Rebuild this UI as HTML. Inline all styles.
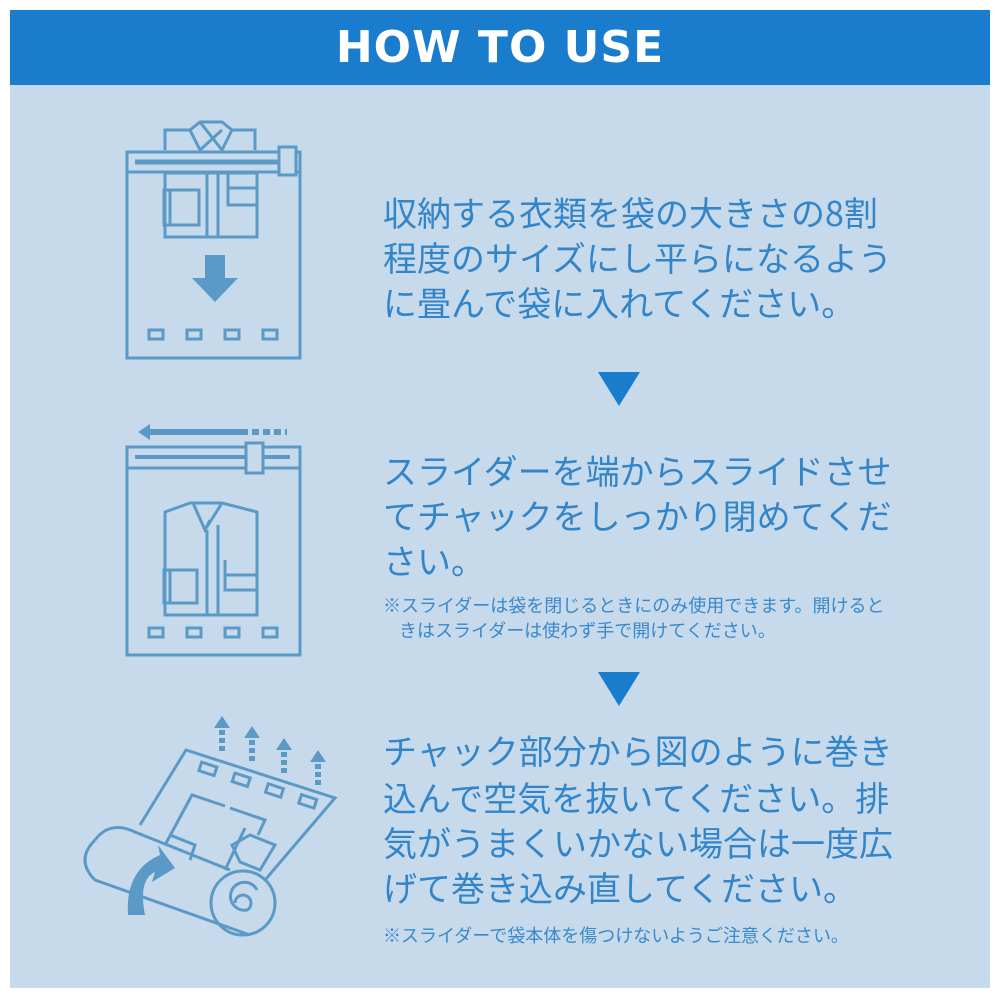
<!DOCTYPE html>
<html><head><meta charset="utf-8"><style>
body{margin:0;background:#fff;width:1000px;height:1000px;position:relative;overflow:hidden;font-family:"Liberation Sans","Noto Sans CJK JP",sans-serif}
#bg{position:absolute;left:10px;top:10px;width:980px;height:978px;background:#c7daeb}
#hd{position:absolute;left:10px;top:10px;width:980px;height:75px;background:#1a7ccc;color:#fff;font-weight:bold;font-size:44px;text-align:center;line-height:75px;letter-spacing:1px;font-family:"DejaVu Sans",sans-serif}
.t{position:absolute;left:383px;font-size:34px;line-height:46px;color:#3385c9;white-space:nowrap;font-family:"Noto Sans CJK JP",sans-serif;font-weight:400}
.n{position:absolute;left:383px;font-size:18px;line-height:24px;color:#3a88cb;white-space:nowrap;font-family:"Noto Sans CJK JP",sans-serif;font-weight:400}
svg{position:absolute;left:0;top:0}
</style></head><body>
<div id="bg"></div>
<div id="hd">HOW TO USE</div>
<div class="t" style="top:189px">収納する衣類を袋の大きさの8割</div>
<div class="t" style="top:234px">程度のサイズにし平らになるよう</div>
<div class="t" style="top:279px">に畳んで袋に入れてください。</div>
<div class="t" style="top:447px">スライダーを端からスライドさせ</div>
<div class="t" style="top:492px">てチャックをしっかり閉めてくだ</div>
<div class="t" style="top:537px">さい。</div>
<div class="n" style="top:593px">※スライダーは袋を閉じるときにのみ使用できます。開けると</div>
<div class="n" style="top:618px;left:399px">きはスライダーは使わず手で開けてください。</div>
<div class="t" style="top:727px">チャック部分から図のように巻き</div>
<div class="t" style="top:774px">込んで空気を抜いてください。排</div>
<div class="t" style="top:819px">気がうまくいかない場合は一度広</div>
<div class="t" style="top:864px">げて巻き込み直してください。</div>
<div class="n" style="top:923px">※スライダーで袋本体を傷つけないようご注意ください。</div>
<svg width="1000" height="1000" viewBox="0 0 1000 1000">
<polygon points="598,372 640,372 619,406" fill="#1a7ccc"/>
<polygon points="598,672 640,672 619,706" fill="#1a7ccc"/>
<g fill="none" stroke="#5b9ac6" stroke-width="3">
<path d="M165,150 V130 H190 L200,122 H222 L232,130 H255 V150"/>
<path d="M190,130 L200,150 L222,130 M200,122 L222,150 L232,130"/>
<rect x="127" y="152" width="173" height="206"/>
<line x1="127" y1="172" x2="300" y2="172"/>
<line x1="135" y1="162" x2="280" y2="162" stroke-width="5"/>
<rect x="279" y="147" width="17" height="28" fill="#c7daeb"/>
<rect x="165" y="173" width="92" height="64"/>
<line x1="207" y1="173" x2="207" y2="237"/><line x1="218" y1="173" x2="218" y2="237"/>
<rect x="164" y="190" width="35" height="35"/><line x1="170" y1="190" x2="170" y2="225"/>
<path d="M228,173 V205 H257 M228,188 H257"/>
<rect x="149" y="330" width="14" height="9"/><rect x="187" y="330" width="14" height="9"/><rect x="225" y="330" width="14" height="9"/><rect x="263" y="330" width="14" height="9"/>
<rect x="127" y="447" width="173" height="208"/>
<line x1="127" y1="468" x2="300" y2="468"/>
<line x1="135" y1="457" x2="290" y2="457" stroke-width="4"/>
<rect x="246" y="443" width="17" height="30" fill="#c7daeb"/>
<path d="M165,615 V512 L190,503 H222 L257,512 V615 Z"/>
<path d="M193,503 L205,530 L222,503 M205,530 L210,520"/>
<line x1="207" y1="530" x2="207" y2="615"/><line x1="218" y1="525" x2="218" y2="615"/>
<rect x="164" y="570" width="33" height="33"/><line x1="170" y1="570" x2="170" y2="603"/>
<path d="M225,560 V590 H257 M225,575 H257"/>
<rect x="149" y="628" width="14" height="9"/><rect x="187" y="628" width="14" height="9"/><rect x="225" y="628" width="14" height="9"/><rect x="263" y="628" width="14" height="9"/>
<path d="M140,825 L186,750 L335,798 L265,880"/>
<g transform="rotate(18 200 790)">
<rect x="193" y="763" width="16" height="9"/><rect x="228" y="763" width="16" height="9"/><rect x="263" y="763" width="16" height="9"/><rect x="298" y="763" width="16" height="9"/>
</g>
<path d="M165,845 L192,795 L225,806 M230,808 L265,820 L258,835 M245,828 L225,870"/>
<path d="M170,835 L195,845 L190,860"/>
<path d="M232,845 L250,835 L275,845 L260,870 L240,862 Z"/>
<path d="M95,840 Q110,820 135,832 L230,870"/>
<path d="M95,840 Q75,860 95,880 L250,935"/>
<circle cx="243" cy="903" r="32"/>
<path d="M243,903 m-8,0 a8,8 0 1,1 12,7 a14,14 0 1,1 10,-20"/>
</g>
<g fill="#5b9ac6">
<polygon points="138,432 150,424 150,440"/><rect x="148" y="429" width="100" height="6"/>
<rect x="252" y="429" width="7" height="6"/><rect x="263" y="429" width="7" height="6"/><rect x="274" y="429" width="7" height="6"/><rect x="285" y="429" width="2" height="6"/>
<polygon points="205,255 225,255 225,278 238,278 215,302 192,278 205,278"/>
<path d="M128,915 Q125,870 160,855 L158,845 L175,868 L152,882 L155,872 Q138,880 145,915 Z"/>
<g id="ua"><polygon points="222,716 214,728 230,728"/><rect x="219" y="730" width="6" height="5"/><rect x="219" y="738" width="6" height="5"/><rect x="219" y="746" width="6" height="5"/></g>
<use href="#ua" transform="translate(30,10)"/><use href="#ua" transform="translate(62,22)"/><use href="#ua" transform="translate(96,34)"/>
</g>
</svg>
</body></html>
